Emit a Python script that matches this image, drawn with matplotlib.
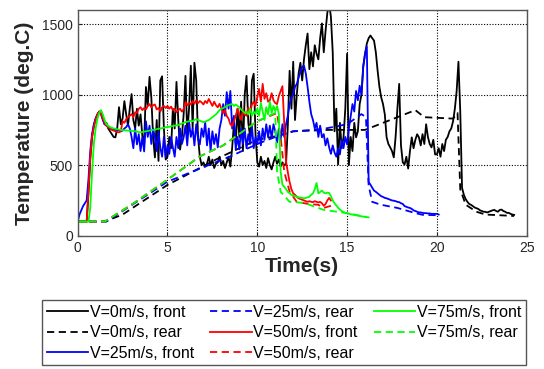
import numpy as np
import matplotlib
matplotlib.use("Agg")
import matplotlib.pyplot as plt

plt.rcParams['font.family'] = ['Liberation Sans', 'DejaVu Sans']

# sample step of the front thermocouple records (s)
dt = 0.1

# V=0m/s front (from t=0, every 0.1 s)
v0_front = [
    100, 100, 100, 100, 100, 100, 300, 540, 700, 780,
    830, 860, 880, 870, 830, 790, 800, 760, 740, 720,
    700, 697, 760, 911, 790, 830, 954, 860, 780, 900,
    1004, 820, 760, 900, 780, 860, 710, 647, 1054, 920,
    1126, 980, 700, 555, 820, 530, 1100, 1130, 760, 540,
    560, 700, 620, 900, 760, 1090, 820, 610, 700, 860,
    1133, 720, 900, 1205, 760, 1226, 1100, 700, 560, 500,
    520, 490, 510, 560, 500, 540, 480, 510, 520, 560,
    500, 530, 480, 520, 560, 490, 620, 800, 650, 900,
    700, 950, 600, 1000, 1133, 800, 700, 1100, 1148, 720,
    520, 490, 560, 500, 530, 480, 550, 500, 470, 520,
    560, 510, 540, 490, 520, 500, 505, 780, 1169, 900,
    1233, 820, 1000, 1150, 1226, 1100, 1250, 1350, 1433, 1180,
    1300, 1200, 1350, 1290, 1250, 1400, 1505, 1300, 1450, 1580,
    1650, 1550, 1300, 740, 900, 505, 800, 620, 697, 900,
    1290, 500, 700, 600, 800, 697, 740, 933, 1000, 1200,
    1290, 1362, 1400, 1419, 1400, 1383, 1300, 1169, 1055, 980,
    933, 860, 697, 650, 626, 600, 555, 700, 900, 1076,
    640, 520, 505, 560, 476, 600, 697, 620, 680, 719,
    697, 640, 720, 650, 790, 700, 650, 626, 680, 576,
    576, 620, 560, 650, 600, 680, 700, 740, 760, 811,
    900, 1026, 1233, 883, 340, 290, 260, 240, 225, 219,
    210, 200, 195, 190, 180, 175, 170, 169, 165, 170,
    175, 180, 183, 175, 170, 183, 185, 175, 170, 162,
    162, 155, 150, 148,
]

# V=25m/s front
v25_front = [
    100, 150, 180, 210, 230, 250, 400, 600, 720, 790,
    830, 860, 880, 860, 820, 790, 780, 770, 760, 755,
    755, 750, 745, 750, 740, 745, 760, 770, 790, 760,
    700, 620, 760, 647, 720, 600, 700, 597, 811, 700,
    780, 650, 760, 697, 600, 740, 626, 560, 700, 555,
    640, 580, 700, 626, 560, 700, 620, 760, 650, 697,
    780, 640, 811, 700, 760, 640, 790, 690, 647, 760,
    700, 805, 640, 760, 600, 740, 650, 720, 626, 760,
    820, 933, 850, 1018, 900, 1026, 760, 850, 612, 700,
    612, 760, 650, 760, 620, 720, 650, 780, 620, 700,
    650, 740, 640, 760, 680, 790, 700, 780, 690, 790,
    740, 660, 760, 680, 790, 700, 790, 850, 933, 980,
    1000, 1055, 1076, 1120, 1160, 1197, 1205, 1150, 1055, 950,
    862, 820, 760, 800, 700, 780, 697, 720, 640, 690,
    626, 580, 640, 590, 560, 620, 576, 680, 620, 700,
    647, 760, 848, 933, 880, 1026, 960, 1063, 1000, 1200,
    1290, 1340, 380, 362, 340, 320, 311, 300, 290, 280,
    275, 268, 265, 260, 255, 250, 248, 245, 240, 238,
    230, 225, 210, 205, 200, 197, 190, 180, 175, 170,
    165, 165, 162, 160, 160, 158, 158, 155, 155, 155,
    155, 150,
]

# V=50m/s front
v50_front = [
    100, 100, 100, 100, 100, 100, 320, 560, 700, 770,
    820, 860, 880, 860, 830, 800, 780, 770, 760, 750,
    745, 740, 735, 733, 740, 811, 800, 826, 840, 850,
    862, 840, 875, 870, 900, 911, 890, 905, 895, 920,
    933, 910, 925, 930, 895, 905, 880, 910, 920, 905,
    920, 900, 915, 890, 900, 875, 890, 900, 880, 897,
    947, 925, 940, 930, 955, 935, 960, 940, 955, 945,
    930, 955, 940, 969, 945, 920, 950, 925, 910, 935,
    900, 870, 890, 848, 830, 790, 776, 811, 850, 900,
    860, 820, 890, 860, 850, 910, 870, 930, 950, 920,
    983, 1040, 950, 1076, 970, 1010, 950, 960, 1010, 960,
    940, 933, 990, 1026, 1060, 800, 526, 450, 380, 330,
    300, 290, 276, 265, 260, 255, 250, 245, 240, 245,
    240, 238, 245, 240, 236, 240, 230, 212, 225, 250,
    268, 250,
]

# V=75m/s front
v75_front = [
    100, 100, 100, 100, 100, 100, 100, 200, 450, 650,
    760, 830, 870, 890, 860, 820, 790, 780, 770, 765,
    760, 758, 755, 752, 750, 748, 747, 746, 745, 745,
    744, 742, 740, 738, 735, 733, 735, 738, 740, 742,
    745, 748, 750, 752, 755, 758, 760, 762, 765, 769,
    770, 772, 775, 778, 780, 782, 785, 790, 795, 800,
    805, 808, 811, 815, 811, 820, 826, 820, 815, 810,
    805, 808, 815, 820, 830, 840, 850, 860, 875, 890,
    900, 905, 911, 920, 925, 930, 933, 920, 930, 920,
    910, 895, 883, 870, 880, 860, 900, 850, 880, 862,
    900, 850, 940, 880, 820, 911, 860, 950, 870, 920,
    883, 920, 862, 455, 362, 347, 330, 311, 300, 290,
    285, 280, 276, 272, 270, 268, 265, 268, 272, 276,
    290, 300, 330, 374, 300, 310, 320, 305, 300, 305,
    303, 280, 250, 230, 215, 198, 185, 175, 168, 162,
    160, 156, 152, 150, 148, 145, 142, 140, 138, 135,
    133, 132, 130,
]

# rear thermocouples (time s, temperature deg.C)
v0_rear_t = [0, 1.5, 2.5, 5, 8, 10, 11, 12, 14, 16, 17.2, 18.8, 19.3, 20.9, 21.15, 21.3, 21.6, 22.2, 22.7, 23.5, 24.3]
v0_rear = [100, 100, 150, 360, 560, 680, 705, 740, 750, 750, 810, 890, 840, 830, 870, 330, 220, 170, 150, 145, 140]

v25_rear_t = [0, 1.6, 5, 8.5, 10, 11, 12, 13.6, 15, 15.8, 16.05, 16.2, 16.4, 16.9, 17.8, 18.75, 19.2, 20.1]
v25_rear = [100, 100, 383, 562, 650, 700, 740, 755, 790, 862, 840, 355, 240, 219, 197, 162, 148, 145]

v50_rear_t = [0, 1.5, 3, 5, 6.8, 8.1, 9.2, 10, 11.1, 11.3, 11.5, 11.8, 12.2, 12.8, 13.4, 13.7, 14.1]
v50_rear = [100, 100, 220, 397, 562, 640, 740, 811, 870, 700, 455, 311, 240, 226, 219, 197, 212]

v75_rear_t = [0, 1.5, 3, 5, 6.8, 8.1, 9.2, 10, 11.0, 11.1, 11.3, 11.8, 12.6, 13.7, 14.9, 16.1]
v75_rear = [100, 100, 220, 397, 562, 640, 740, 811, 870, 455, 311, 240, 233, 183, 162, 133]

fig = plt.figure(figsize=(5.44, 3.69), dpi=100)
ax = fig.add_axes([0.1428, 0.3612, 0.8254, 0.6118])

lw = 1.3
dash = (4, 2.5)


def front(vals):
    return np.arange(len(vals)) * dt, vals


ax.plot(*front(v0_front), color='#000000', lw=lw, label='V=0m/s, front')
ax.plot(v0_rear_t, v0_rear, color='#000000', lw=lw, dashes=dash, label='V=0m/s, rear')
ax.plot(*front(v25_front), color='#0000ff', lw=lw, label='V=25m/s, front')
ax.plot(v25_rear_t, v25_rear, color='#0000ff', lw=lw, dashes=dash, label='V=25m/s, rear')
ax.plot(*front(v50_front), color='#ff0000', lw=lw, label='V=50m/s, front')
ax.plot(v50_rear_t, v50_rear, color='#ff0000', lw=lw, dashes=dash, label='V=50m/s, rear')
ax.plot(*front(v75_front), color='#00ff00', lw=lw, label='V=75m/s, front')
ax.plot(v75_rear_t, v75_rear, color='#00ff00', lw=lw, dashes=dash, label='V=75m/s, rear')

ax.set_xlim(0, 25)
ax.set_ylim(0, 1600)
ax.set_xticks([0, 5, 10, 15, 20, 25])
ax.set_yticks([0, 500, 1000, 1500])
ax.grid(True, color='#000000', linestyle=(0, (1, 1.5)), linewidth=0.8)
ax.tick_params(direction='in', length=3, labelsize=10, colors='#262626', width=0.8)
for s in ax.spines.values():
    s.set_color('#555555')
    s.set_linewidth(1.0)

ax.set_xlabel('Time(s)', fontsize=15, fontweight='bold', color='#262626', labelpad=2)
ax.set_ylabel('Temperature (deg.C)', fontsize=15, fontweight='bold', color='#262626', labelpad=6)

leg = fig.legend(loc='upper left', bbox_to_anchor=(42 / 544, 1 - 300 / 369), ncol=3,
                 fontsize=11.5, handlelength=2.6, handletextpad=0.1, columnspacing=1.0,
                 labelspacing=0.34, borderpad=0.3, borderaxespad=0, fancybox=False,
                 framealpha=1, edgecolor='#555555')
leg.get_frame().set_linewidth(1.0)

fig.savefig('out.png', dpi=100)
